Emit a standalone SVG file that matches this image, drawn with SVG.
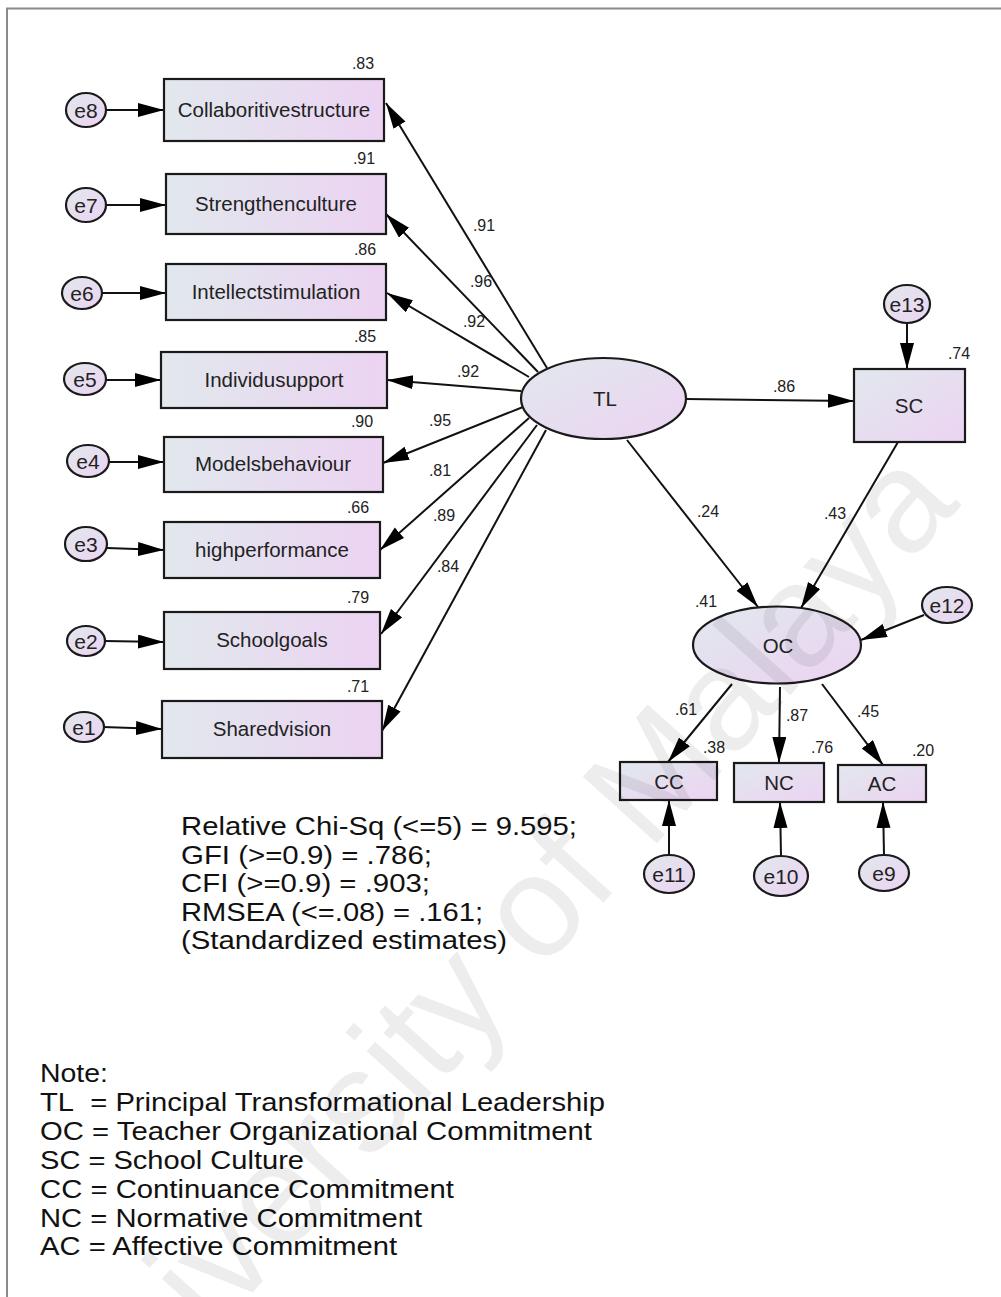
<svg xmlns="http://www.w3.org/2000/svg" width="1001" height="1297" viewBox="0 0 1001 1297">
<style>
.box{stroke:#1a1a1a;stroke-width:2.2}
.lab{font-family:"Liberation Sans",Arial,sans-serif;font-size:20.5px;fill:#222;text-anchor:middle}
.elab{font-family:"Liberation Sans",Arial,sans-serif;font-size:21px;fill:#222;text-anchor:middle}
.num{font-family:"Liberation Sans",Arial,sans-serif;font-size:16px;fill:#222;text-anchor:middle}
.big{font-family:"Liberation Sans",Arial,sans-serif;font-size:25px;fill:#111}
.con line{stroke:#111;stroke-width:2;marker-end:url(#ah)}
</style>
<defs>
<linearGradient id="gh" x1="0" y1="0" x2="1" y2="0">
<stop offset="0" stop-color="#e1e8ed"/><stop offset="1" stop-color="#ecd3f2"/>
</linearGradient>
<linearGradient id="gd" x1="0" y1="0" x2="1" y2="1">
<stop offset="0" stop-color="#e1e8ed"/><stop offset="1" stop-color="#ecd3f2"/>
</linearGradient>
<marker id="ah" markerUnits="userSpaceOnUse" markerWidth="27" markerHeight="15" refX="26" refY="7" orient="auto">
<path d="M0,0 L26,7 L0,14 z" fill="#000"/>
</marker>
</defs>
<rect width="1001" height="1297" fill="#fff"/>
<path d="M7,1297 V8.5 H1001" fill="none" stroke="#8a8a8a" stroke-width="2"/>

<g class="con">
<line x1="107" y1="110" x2="164" y2="110"/>
<line x1="107" y1="205" x2="166" y2="205"/>
<line x1="102" y1="293" x2="166" y2="293"/>
<line x1="106" y1="380" x2="161" y2="380"/>
<line x1="109" y1="462" x2="164" y2="462"/>
<line x1="107" y1="548" x2="164" y2="550"/>
<line x1="105" y1="641" x2="164" y2="642"/>
<line x1="103" y1="727" x2="162" y2="729"/>
<line x1="547" y1="368" x2="386" y2="103"/>
<line x1="538" y1="372" x2="386" y2="214"/>
<line x1="529" y1="377" x2="387" y2="293"/>
<line x1="521" y1="391" x2="387" y2="380"/>
<line x1="523" y1="407" x2="383" y2="463"/>
<line x1="529" y1="418" x2="380" y2="550"/>
<line x1="537" y1="425" x2="381" y2="634"/>
<line x1="546" y1="430" x2="382" y2="731"/>
<line x1="686" y1="399" x2="854" y2="401"/>
<line x1="627" y1="440" x2="758" y2="607"/>
<line x1="898" y1="442" x2="801" y2="608"/>
<line x1="907" y1="323" x2="907" y2="369"/>
<line x1="924" y1="615" x2="861" y2="640"/>
<line x1="732" y1="684" x2="668" y2="762"/>
<line x1="780" y1="687" x2="779" y2="763"/>
<line x1="822" y1="684" x2="883" y2="765"/>
<line x1="669" y1="855" x2="669" y2="800"/>
<line x1="781" y1="856" x2="780" y2="802"/>
<line x1="884" y1="855" x2="883" y2="802"/>
</g>

<g id="n-collab"><rect class="box" x="164" y="79" width="220" height="62" fill="url(#gh)"/><text class="lab" x="274" y="117">Collaboritivestructure</text></g>
<g id="n-strength"><rect class="box" x="166" y="174" width="220" height="60" fill="url(#gh)"/><text class="lab" x="276" y="211">Strengthenculture</text></g>
<g id="n-intellect"><rect class="box" x="166" y="264" width="220" height="56" fill="url(#gh)"/><text class="lab" x="276" y="299">Intellectstimulation</text></g>
<g id="n-individu"><rect class="box" x="161" y="352" width="226" height="56" fill="url(#gh)"/><text class="lab" x="274" y="387">Individusupport</text></g>
<g id="n-models"><rect class="box" x="164" y="437" width="219" height="55" fill="url(#gh)"/><text class="lab" x="273" y="471">Modelsbehaviour</text></g>
<g id="n-highperf"><rect class="box" x="164" y="522" width="216" height="56" fill="url(#gh)"/><text class="lab" x="272" y="557">highperformance</text></g>
<g id="n-schoolgoals"><rect class="box" x="164" y="612" width="216" height="57" fill="url(#gh)"/><text class="lab" x="272" y="647">Schoolgoals</text></g>
<g id="n-sharedvision"><rect class="box" x="162" y="701" width="220" height="57" fill="url(#gh)"/><text class="lab" x="272" y="736">Sharedvision</text></g>

<g id="e8"><ellipse class="box" cx="86" cy="110" rx="20" ry="17" fill="url(#gd)"/><text class="elab" x="86" y="117.5">e8</text></g>
<g id="e7"><ellipse class="box" cx="86" cy="205" rx="20" ry="17" fill="url(#gd)"/><text class="elab" x="86" y="212.5">e7</text></g>
<g id="e6"><ellipse class="box" cx="82" cy="293" rx="20" ry="16" fill="url(#gd)"/><text class="elab" x="82" y="300.5">e6</text></g>
<g id="e5"><ellipse class="box" cx="85" cy="379" rx="21" ry="16" fill="url(#gd)"/><text class="elab" x="85" y="386.5">e5</text></g>
<g id="e4"><ellipse class="box" cx="88" cy="461" rx="21" ry="16" fill="url(#gd)"/><text class="elab" x="88" y="468.5">e4</text></g>
<g id="e3"><ellipse class="box" cx="86" cy="544" rx="21" ry="17" fill="url(#gd)"/><text class="elab" x="86" y="551.5">e3</text></g>
<g id="e2"><ellipse class="box" cx="86" cy="641" rx="19" ry="15" fill="url(#gd)"/><text class="elab" x="86" y="648.5">e2</text></g>
<g id="e1"><ellipse class="box" cx="84" cy="727" rx="20" ry="15" fill="url(#gd)"/><text class="elab" x="84" y="734.5">e1</text></g>

<g id="TL"><ellipse class="box" cx="603.5" cy="398.5" rx="82.5" ry="40.5" fill="url(#gd)"/><text class="lab" x="605" y="406">TL</text></g>
<g id="SC"><rect class="box" x="854" y="369" width="111" height="73" fill="url(#gd)"/><text class="lab" x="909" y="413">SC</text></g>
<g id="e13"><ellipse class="box" cx="907" cy="304" rx="23" ry="19" fill="url(#gd)"/><text class="elab" x="907" y="311.5">e13</text></g>
<g id="OC"><ellipse class="box" cx="777" cy="645" rx="84" ry="38.5" fill="url(#gd)"/><text class="lab" x="778" y="653">OC</text></g>
<g id="e12"><ellipse class="box" cx="947" cy="605" rx="25" ry="18" fill="url(#gd)"/><text class="elab" x="947" y="612.5">e12</text></g>
<g id="CC"><rect class="box" x="620" y="762" width="97" height="38" fill="url(#gd)"/><text class="lab" x="669" y="789">CC</text></g>
<g id="NC"><rect class="box" x="734" y="763" width="90" height="39" fill="url(#gd)"/><text class="lab" x="779" y="790">NC</text></g>
<g id="AC"><rect class="box" x="838" y="765" width="88" height="37" fill="url(#gd)"/><text class="lab" x="882" y="791">AC</text></g>
<g id="e11"><ellipse class="box" cx="669" cy="874" rx="25" ry="19" fill="url(#gd)"/><text class="elab" x="669" y="881.5">e11</text></g>
<g id="e10"><ellipse class="box" cx="781" cy="876" rx="27" ry="20" fill="url(#gd)"/><text class="elab" x="781" y="883.5">e10</text></g>
<g id="e9"><ellipse class="box" cx="884" cy="873" rx="25" ry="18" fill="url(#gd)"/><text class="elab" x="884" y="880.5">e9</text></g>

<g id="labels">
<text class="num" x="363" y="69">.83</text>
<text class="num" x="364" y="164">.91</text>
<text class="num" x="365" y="255">.86</text>
<text class="num" x="365" y="342">.85</text>
<text class="num" x="362" y="427">.90</text>
<text class="num" x="358" y="513">.66</text>
<text class="num" x="358" y="603">.79</text>
<text class="num" x="358" y="692">.71</text>
<text class="num" x="484" y="231">.91</text>
<text class="num" x="481" y="287">.96</text>
<text class="num" x="474" y="327">.92</text>
<text class="num" x="468" y="377">.92</text>
<text class="num" x="440" y="426">.95</text>
<text class="num" x="440" y="476">.81</text>
<text class="num" x="444" y="521">.89</text>
<text class="num" x="448" y="572">.84</text>
<text class="num" x="784" y="392">.86</text>
<text class="num" x="959" y="359">.74</text>
<text class="num" x="708" y="517">.24</text>
<text class="num" x="835" y="519">.43</text>
<text class="num" x="706" y="607">.41</text>
<text class="num" x="686" y="715">.61</text>
<text class="num" x="797" y="721">.87</text>
<text class="num" x="868" y="717">.45</text>
<text class="num" x="714" y="753">.38</text>
<text class="num" x="822" y="753">.76</text>
<text class="num" x="923" y="756">.20</text>
</g>

<g id="fit">
<text class="big" x="181" y="835" textLength="396" lengthAdjust="spacingAndGlyphs">Relative Chi-Sq (&lt;=5) = 9.595;</text>
<text class="big" x="181" y="863.5" textLength="251" lengthAdjust="spacingAndGlyphs">GFI (&gt;=0.9) = .786;</text>
<text class="big" x="181" y="892" textLength="249" lengthAdjust="spacingAndGlyphs">CFI (&gt;=0.9) = .903;</text>
<text class="big" x="181" y="920.5" textLength="302" lengthAdjust="spacingAndGlyphs">RMSEA (&lt;=.08) = .161;</text>
<text class="big" x="181" y="949" textLength="326" lengthAdjust="spacingAndGlyphs">(Standardized estimates)</text>
</g>
<g id="note">
<text class="big" x="40" y="1082" textLength="68" lengthAdjust="spacingAndGlyphs">Note:</text>
<text class="big" x="40" y="1111" textLength="565" lengthAdjust="spacingAndGlyphs">TL&#160; = Principal Transformational Leadership</text>
<text class="big" x="40" y="1140" textLength="552" lengthAdjust="spacingAndGlyphs">OC = Teacher Organizational Commitment</text>
<text class="big" x="40" y="1169" textLength="264" lengthAdjust="spacingAndGlyphs">SC = School Culture</text>
<text class="big" x="40" y="1198" textLength="414" lengthAdjust="spacingAndGlyphs">CC = Continuance Commitment</text>
<text class="big" x="40" y="1227" textLength="382" lengthAdjust="spacingAndGlyphs">NC = Normative Commitment</text>
<text class="big" x="40" y="1255" textLength="357" lengthAdjust="spacingAndGlyphs">AC = Affective Commitment</text>
</g>

<text x="525" y="990" transform="rotate(-48 525 990)" text-anchor="middle" font-family="Liberation Sans, Arial, sans-serif" font-size="145" fill="#000" fill-opacity="0.07">University of Malaya</text>
</svg>
